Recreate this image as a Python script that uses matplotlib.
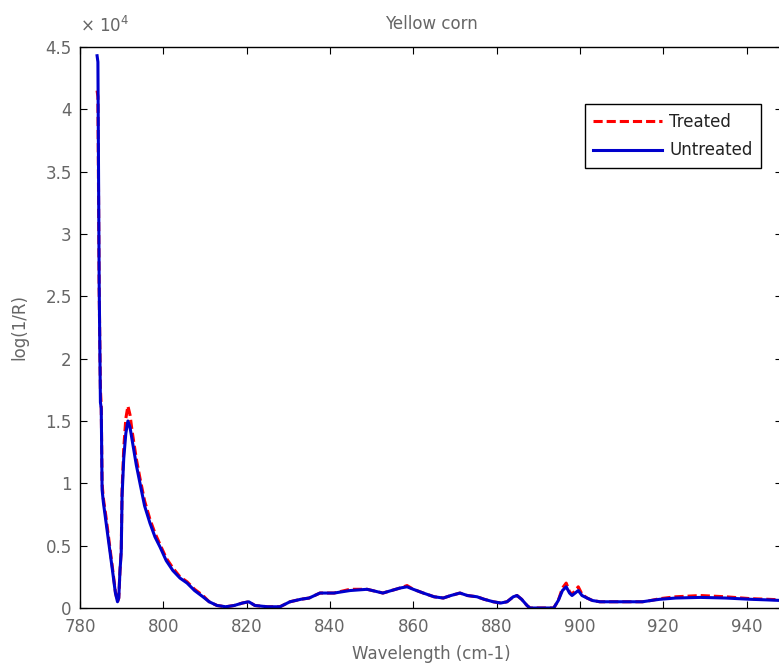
import numpy as np
import matplotlib.pyplot as plt
from matplotlib.ticker import FuncFormatter

# spectra, log(1/R) values in units of 1e4
wavelength = [784.1, 784.3, 784.6, 784.9, 785.1, 785.3, 785.6, 786.2, 787.0, 787.8,
              788.5, 789.0, 789.3, 789.6, 789.9, 790.1, 790.5, 791.0, 791.5, 792.0,
              792.5, 793.5, 794.4, 795.5, 796.8, 798.0, 799.2, 800.7, 802.3, 804.0,
              805.7, 807.5, 809.5, 811.0, 812.9, 815.0, 817.0, 819.0, 820.5, 822.0,
              825.0, 828.0, 830.4, 833.0, 835.0, 837.6, 841.0, 844.8, 848.9, 852.7,
              856.8, 858.5, 860.0, 862.4, 865.0, 867.2, 869.0, 871.2, 873.0, 875.3,
              877.0, 879.2, 881.0, 882.5, 884.0, 884.9, 886.0, 887.3, 888.0, 893.7,
              894.8, 895.8, 896.7, 897.5, 898.1, 899.6, 900.5, 901.7, 903.0, 904.8,
              910.0, 915.0, 917.0, 919.2, 923.0, 928.9, 935.0, 940.9, 945.0, 948.5]

untreated = [4.43, 4.38, 2.60, 1.65, 1.60, 0.95, 0.85, 0.70, 0.50, 0.30,
             0.12, 0.05, 0.08, 0.30, 0.45, 0.90, 1.20, 1.40, 1.50, 1.45,
             1.35, 1.15, 1.00, 0.82, 0.68, 0.57, 0.49, 0.38, 0.30, 0.24,
             0.20, 0.14, 0.09, 0.05, 0.02, 0.01, 0.02, 0.04, 0.05, 0.02,
             0.01, 0.01, 0.05, 0.07, 0.08, 0.12, 0.12, 0.14, 0.15, 0.12,
             0.16, 0.17, 0.15, 0.12, 0.09, 0.08, 0.10, 0.12, 0.10, 0.09,
             0.07, 0.05, 0.04, 0.05, 0.09, 0.10, 0.07, 0.02, 0.00, 0.00,
             0.06, 0.14, 0.17, 0.12, 0.10, 0.14, 0.10, 0.08, 0.06, 0.05,
             0.05, 0.05, 0.06, 0.07, 0.08, 0.085, 0.08, 0.07, 0.065, 0.06]

treated = [4.15, 4.10, 2.55, 1.75, 1.62, 1.00, 0.88, 0.74, 0.53, 0.32,
           0.13, 0.05, 0.08, 0.30, 0.47, 0.95, 1.28, 1.52, 1.62, 1.55,
           1.42, 1.20, 1.04, 0.86, 0.71, 0.60, 0.51, 0.40, 0.32, 0.25,
           0.21, 0.15, 0.10, 0.05, 0.02, 0.01, 0.02, 0.04, 0.05, 0.02,
           0.01, 0.01, 0.05, 0.07, 0.08, 0.12, 0.12, 0.15, 0.15, 0.12,
           0.16, 0.18, 0.15, 0.12, 0.09, 0.08, 0.10, 0.12, 0.10, 0.09,
           0.07, 0.05, 0.04, 0.05, 0.09, 0.10, 0.07, 0.02, 0.00, 0.00,
           0.06, 0.16, 0.20, 0.13, 0.11, 0.17, 0.11, 0.08, 0.06, 0.05,
           0.05, 0.05, 0.06, 0.075, 0.09, 0.10, 0.09, 0.075, 0.07, 0.065]

plt.rcParams['font.family'] = ['DejaVu Sans']
plt.rcParams['font.size'] = 12
txt = '#666666'

fig = plt.figure(figsize=(7.79, 6.65), dpi=100)
# right edge of the axes runs slightly past the figure border
ax = fig.add_axes([80 / 779, 57 / 665, 702 / 779, 561 / 665])

x = np.array(wavelength)
ax.plot(x, np.array(treated) * 1e4, color='#ff0000', lw=2.2, dashes=(3, 1.3), label='Treated')
ax.plot(x, np.array(untreated) * 1e4, color='#0000cc', lw=2.2, label='Untreated')

ax.set_xlim(780, 948.5)
ax.set_ylim(0, 4.5e4)
ax.set_xticks(np.arange(780, 941, 20))
ax.set_yticks(np.arange(0, 4.51e4, 0.5e4))
ax.yaxis.set_major_formatter(FuncFormatter(lambda v, p: '%g' % (v / 1e4)))

ax.tick_params(direction='in', length=5, width=0.8, top=True, right=True,
               labelcolor=txt, labelsize=12)
ax.tick_params(axis='x', pad=7)
ax.tick_params(axis='y', pad=6)
for s in ax.spines.values():
    s.set_linewidth(1.0)
    s.set_color('black')

ax.text(0.0, 1.02, r'$\times$ 10$^4$', transform=ax.transAxes, color=txt,
        fontsize=12, ha='left', va='bottom')

ax.set_title('Yellow corn', fontsize=12, color=txt, pad=13)
ax.set_xlabel('Wavelength (cm-1)', fontsize=12, color=txt, labelpad=7)
ax.set_ylabel('log(1/R)', fontsize=12, color=txt, labelpad=12)

leg = ax.legend(loc='upper right', bbox_to_anchor=(0.970, 0.898), borderaxespad=0,
                fancybox=False, edgecolor='black', framealpha=1, fontsize=12,
                handlelength=4.1, handletextpad=0.45, borderpad=0.5, labelspacing=0.65)
leg.get_frame().set_linewidth(1.0)
for t in leg.get_texts():
    t.set_color('#222222')

plt.savefig('out.png', dpi=100)
